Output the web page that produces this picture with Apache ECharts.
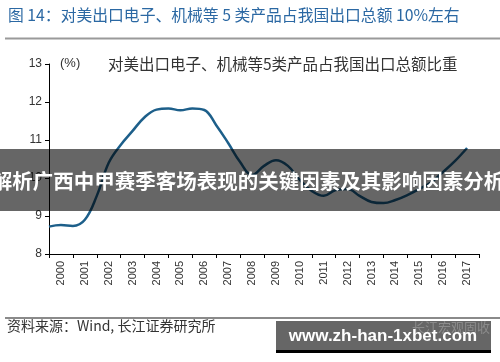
<!DOCTYPE html>
<html>
<head>
<meta charset="utf-8">
<script src="https://cdn.jsdelivr.net/npm/echarts@6/dist/echarts.min.js"></script>
<style>html,body{margin:0;padding:0;background:#fff}#c{width:500px;height:362px}</style>
</head>
<body>
<div id="c"></div>
<script>
// Category tick labels (years)
var years = ['2000','2001','2002','2003','2004','2005','2006','2007','2008','2009','2010','2011','2012','2013','2014','2015','2016','2017'];
// Share values read at half-year steps, starting at the left edge of 2000
var shareValues = [8.72, 8.76, 8.74, 8.90, 9.53, 10.40, 10.87, 11.24, 11.60, 11.80, 11.83, 11.78,
                   11.83, 11.79, 11.39, 10.92, 10.42, 10.08, 10.32, 10.47, 10.32, 9.95, 9.66, 9.53,
                   9.68, 9.71, 9.53, 9.37, 9.34, 9.42, 9.55, 9.71, 9.89, 10.16, 10.45, 10.79];
var yTicks = {min: 8, max: 13, step: 1};

var CJK = '"Noto Sans CJK SC", "Liberation Sans", sans-serif';
var lineData = shareValues.map(function (v, i) { return [i * 0.5, v]; });

var chart = echarts.init(document.getElementById('c'), null, {renderer: 'canvas'});
chart.setOption({
  animation: false,
  backgroundColor: '#fff',
  grid: {left: 49, right: 21, top: 64, bottom: 108, containLabel: false},
  xAxis: [{
    type: 'category', data: years, boundaryGap: true,
    axisLine: {lineStyle: {color: '#000', width: 1}},
    axisTick: {show: true, interval: 0, length: 4, lineStyle: {color: '#000'}},
    axisLabel: {interval: 0, rotate: 90, margin: 7, fontSize: 11, color: '#333', fontFamily: 'Liberation Sans'}
  }, {
    type: 'value', min: 0, max: years.length, show: false
  }],
  yAxis: {
    type: 'value', min: yTicks.min, max: yTicks.max, interval: yTicks.step,
    axisLine: {show: true, lineStyle: {color: '#000', width: 1}},
    axisTick: {show: true, length: 4, lineStyle: {color: '#000'}},
    splitLine: {show: false},
    axisLabel: {margin: 7, fontSize: 12, color: '#333', fontFamily: 'Liberation Sans'}
  },
  series: [{
    type: 'line', xAxisIndex: 1, data: lineData, smooth: 0.4, showSymbol: false,
    lineStyle: {color: '#1d5f8a', width: 2.5}, z: 2
  }],
  graphic: [
    {type: 'text', left: 8, top: 7, style: {text: '图 14：对美出口电子、机械等 5 类产品占我国出口总额 10%左右', font: '15.8px ' + CJK, fill: '#2b68a3'}},
    {type: 'rect', shape: {x: 5, y: 37.5, width: 495, height: 2}, style: {fill: '#9a9a9a'}},
    {type: 'text', left: 60, top: 57, style: {text: '(%)', font: '13px "Liberation Sans"', fill: '#333'}},
    {type: 'text', left: 108, top: 56, style: {text: '对美出口电子、机械等5类产品占我国出口总额比重', font: '15.5px ' + CJK, fill: '#333'}},
    {type: 'rect', shape: {x: 0, y: 149, width: 500, height: 62}, style: {fill: 'rgba(0,0,0,0.6)'}, z: 10},
    {type: 'text', x: 248, y: 181, z: 11, style: {text: '解析广西中甲赛季客场表现的关键因素及其影响因素分析', font: 'bold 20.5px ' + CJK, fill: '#fff', align: 'center', verticalAlign: 'middle'}},
    {type: 'rect', shape: {x: 5, y: 317, width: 495, height: 2}, style: {fill: '#8a8a8a'}},
    {type: 'text', left: 7, top: 319, style: {text: '资料来源：Wind, 长江证券研究所', font: '14px ' + CJK, fill: '#333'}},
    {type: 'rect', shape: {x: 276, y: 321, width: 215, height: 29}, style: {fill: '#666'}, z: 10},
    {type: 'rect', shape: {x: 276, y: 350, width: 215, height: 3}, style: {fill: '#000'}, z: 10},
    {type: 'text', left: 412, top: 321, z: 11, style: {text: '长江宏观固收', font: '13px ' + CJK, fill: 'rgba(170,170,170,0.55)'}},
    {type: 'text', x: 383, y: 336, z: 12, style: {text: 'www.zh-han-1xbet.com', font: 'bold 17px "Liberation Sans"', fill: '#fff', align: 'center', verticalAlign: 'middle'}}
  ]
});
</script>
</body>
</html>
